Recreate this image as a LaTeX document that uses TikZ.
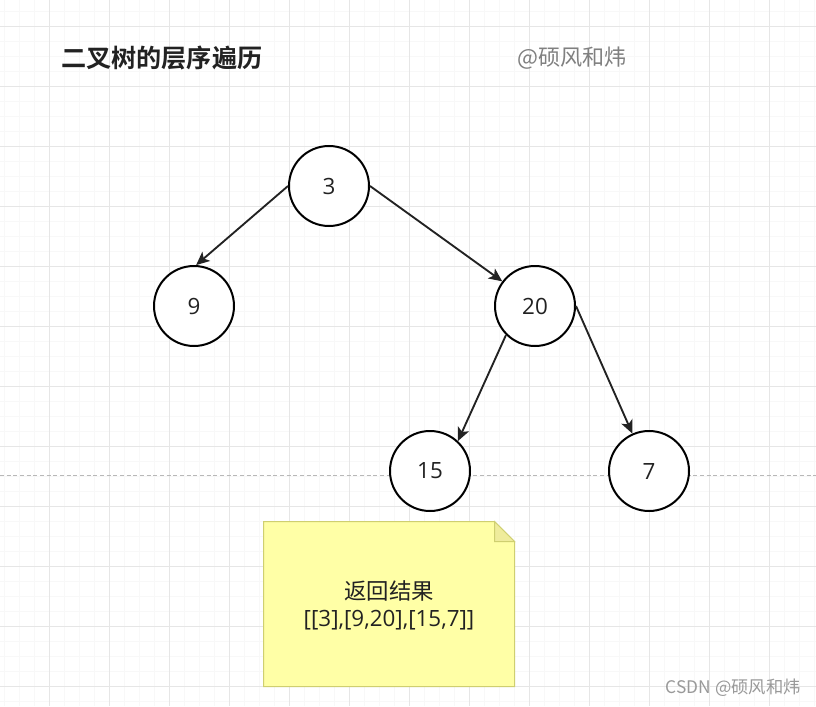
\documentclass[tikz,border=0pt]{standalone}
\usepackage{fontspec}
\setmainfont{Open Sans}
\newfontfamily\cjk{Noto Sans CJK SC}[BoldFont={Noto Sans CJK SC Bold}]
\usetikzlibrary{arrows.meta, calc, positioning}
\definecolor{gridminor}{HTML}{F8F8F8}
\definecolor{gridmajor}{HTML}{E6E6E6}
\definecolor{inkdark}{HTML}{222222}
\definecolor{notefill}{HTML}{FFFFA6}
\definecolor{notefold}{HTML}{EFEC9C}
\definecolor{noteline}{HTML}{CFCF70}
\tikzset{
    treenode/.style={circle, draw=black, fill=white, line width=1.5pt, minimum size=60pt, inner sep=0pt, text=inkdark, font=\fontsize{16.8}{19}\selectfont},
    treeedge/.style={draw=inkdark, line width=1.4pt, -{Stealth[length=10pt, width=9pt, inset=2.5pt]}},
    notebox/.style={fill=notefill, draw=noteline, line width=0.75pt, line join=miter},
    midline/.style={draw=black!28, line width=0.6pt, dash pattern=on 3pt off 2pt}
}
\begin{document}
\begin{tikzpicture}[x=0.75pt, y=-0.75pt]
    \useasboundingbox (0, 0) rectangle (816, 706);
    \fill[white] (0, 0) rectangle (816, 706);
    % grid
    \foreach \x in {4, 19, ..., 816}
        \draw[gridminor, line width=0.75pt] (\x.5, 0) -- (\x.5, 706);
    \foreach \y in {11, 26, ..., 706}
        \draw[gridminor, line width=0.75pt] (0, \y.5) -- (816, \y.5);
    \foreach \x in {49, 109, ..., 816}
        \draw[gridmajor, line width=0.75pt] (\x.5, 0) -- (\x.5, 706);
    \foreach \y in {26, 86, ..., 706}
        \draw[gridmajor, line width=0.75pt] (0, \y.5) -- (816, \y.5);
    % dashed line
    \coordinate (midleft) at (0, 475.5);
    \coordinate (midright) at (816, 475.5);
    \draw[midline] (midleft) -- (midright);
    % titles
    \node[anchor=west, text=inkdark, inner sep=0pt, font=\cjk\fontsize{18.85}{22}\selectfont\bfseries] (title) at (61, 58) {二叉树的层序遍历};
    \node[anchor=west, text=black!50, inner sep=0pt, font=\cjk\fontsize{16.6}{20}\selectfont] (author) at (517, 58) {@硕风和炜};
    % tree
    \node[treenode] (n3) at (329, 186) {3};
    \node[treenode] (n9) at (194, 306) {9};
    \node[treenode] (n20) at (535, 306) {20};
    \node[treenode] (n15) at (430, 471) {15};
    \node[treenode] (n7) at (649, 471) {7};
    \draw[treeedge] (n3.west) -- (n9.87);
    \draw[treeedge] (n3.east) -- (n20.143);
    \draw[treeedge] (n20.225) -- (n15.47);
    \draw[treeedge] (n20.east) -- (n7.114);
    % note
    \draw[notebox] (263.5, 521.5) -- (494.5, 521.5) -- (514.5, 541.5) -- (514.5, 686.5) -- (263.5, 686.5) -- cycle;
    \draw[notebox, fill=notefold] (494.5, 521.5) -- (514.5, 541.5) -- (494.5, 541.5) -- cycle;
    \node[align=center, text=inkdark, inner sep=0pt, font=\fontsize{16.8}{20}\selectfont] (result) at (389, 605.5) {{\cjk 返回结果}\\{[[3],[9,20],[15,7]]}};
    % watermark
    \node[anchor=east, text=black!40, inner sep=0pt, font=\cjk\fontsize{13}{15}\selectfont] (mark) at (801, 688) {CSDN @硕风和炜};
\end{tikzpicture}
\end{document}
